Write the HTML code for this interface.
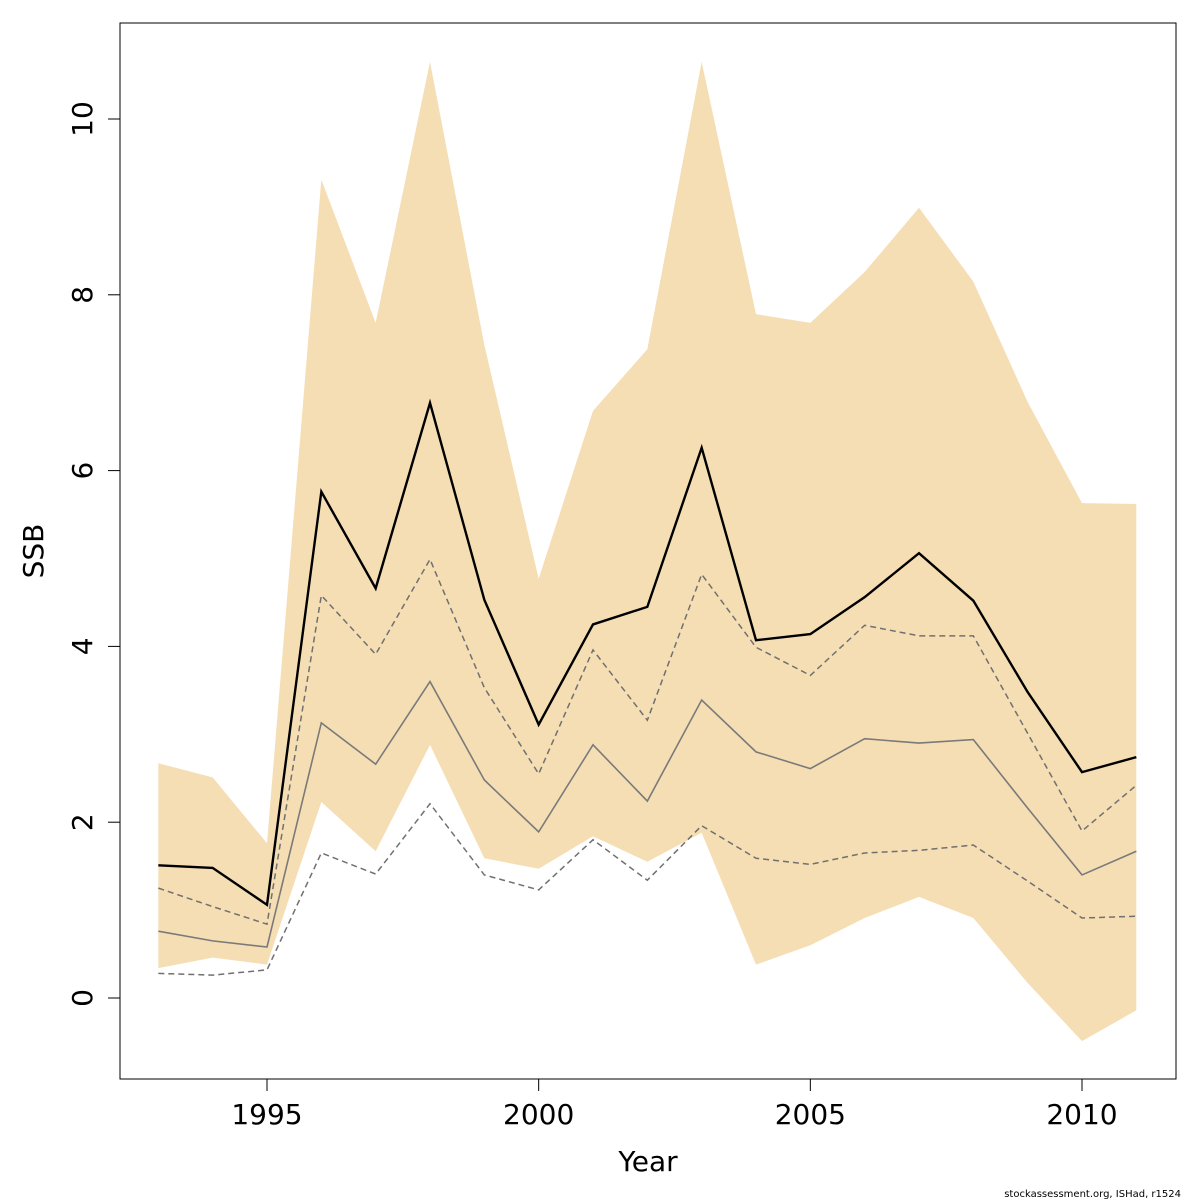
<!DOCTYPE html>
<html><head><meta charset="utf-8"><style>
html,body{margin:0;padding:0;background:#fff;}
svg{display:block;font-family:"DejaVu Sans","Liberation Sans",sans-serif;}
</style></head><body>
<svg id="chart" width="1200" height="1200" viewBox="0 0 1200 1200"></svg>
<script>
const years = [1993,1994,1995,1996,1997,1998,1999,2000,2001,2002,2003,2004,2005,2006,2007,2008,2009,2010,2011];
const bandUpper = [2.67,2.51,1.76,9.31,7.68,10.65,7.43,4.77,6.68,7.38,10.65,7.78,7.68,8.26,8.99,8.15,6.78,5.63,5.62];
const bandLower = [0.34,0.46,0.38,2.23,1.67,2.88,1.59,1.47,1.84,1.55,1.88,0.38,0.60,0.91,1.15,0.91,0.17,-0.49,-0.14];
const ssbMain = [1.51,1.48,1.06,5.76,4.66,6.77,4.53,3.11,4.25,4.45,6.26,4.07,4.14,4.56,5.06,4.52,3.48,2.57,2.74];
const ssbGrey = [0.76,0.65,0.58,3.13,2.66,3.60,2.48,1.89,2.88,2.24,3.39,2.80,2.61,2.95,2.90,2.94,2.16,1.40,1.67];
const dashUpper = [1.25,1.04,0.84,4.58,3.91,4.99,3.53,2.55,3.96,3.16,4.82,3.99,3.67,4.24,4.12,4.12,3.01,1.90,2.42];
const dashLower = [0.28,0.26,0.32,1.65,1.41,2.21,1.40,1.23,1.80,1.34,1.96,1.59,1.52,1.65,1.68,1.74,1.33,0.91,0.93];
const xTicks = [1995,2000,2005,2010];
const yTicks = [0,2,4,6,8,10];

const NS = "http://www.w3.org/2000/svg";
const svg = document.getElementById("chart");
const X = yr => 267 + (yr - 1995) * (1082 - 267) / 15;
const Y = v => 998 - v * (998 - 119) / 10;
function mk(tag, attrs, parent) {
  const e = document.createElementNS(NS, tag);
  for (const k in attrs) e.setAttribute(k, attrs[k]);
  (parent || svg).appendChild(e);
  return e;
}
// band
let d = years.map((yr,i)=>(i?"L":"M")+X(yr)+","+Y(bandUpper[i])).join("");
for (let i = years.length-1; i >= 0; i--) d += "L"+X(years[i])+","+Y(bandLower[i]);
const band = mk("path",{d:d+"Z",fill:"#f5deb3",stroke:"none"});


function line(arr, name, stroke, width, dash) {
  const p = mk("path",{d:years.map((yr,i)=>(i?"L":"M")+X(yr)+","+Y(arr[i])).join(""),fill:"none",stroke:stroke,"stroke-width":width});
  if (dash) p.setAttribute("stroke-dasharray", dash);
  
  
}
line(dashLower, "lower-dashed-line", "#707070", 1.5, "6,4");
line(dashUpper, "upper-dashed-line", "#707070", 1.5, "6,4");
line(ssbGrey, "grey-ssb-line", "#7a7a7a", 1.6);
line(ssbMain, "ssb-line", "#000", 2.4);
// box
const box = mk("rect",{x:120,y:23,width:1056,height:1056,fill:"none",stroke:"#000","stroke-width":1});


// x axis
xTicks.forEach(t=>{
  mk("line",{x1:X(t),x2:X(t),y1:1079,y2:1091,stroke:"#000"});
  const tx = mk("text",{x:X(t),y:1124,"text-anchor":"middle","font-size":28});
  tx.textContent = t;
  
  
});
// y axis
yTicks.forEach(t=>{
  mk("line",{x1:108,x2:120,y1:Y(t),y2:Y(t),stroke:"#000"});
  const tx = mk("text",{x:0,y:0,"text-anchor":"middle","font-size":28,transform:"translate(92,"+Y(t)+") rotate(-90)"});
  tx.textContent = t;
  
  
});
</script>
<svg style="position:absolute;left:0;top:0" width="1200" height="1200">
<text x="648" y="1171" text-anchor="middle" font-size="28" font-family="DejaVu Sans, Liberation Sans, sans-serif">Year</text>
<text transform="translate(43,551) rotate(-90)" text-anchor="middle" font-size="28" font-family="DejaVu Sans, Liberation Sans, sans-serif">SSB</text>
<text x="1181" y="1197" text-anchor="end" font-size="10" font-family="DejaVu Sans, Liberation Sans, sans-serif">stockassessment.org, ISHad, r1524</text>
</svg>
</body></html>
